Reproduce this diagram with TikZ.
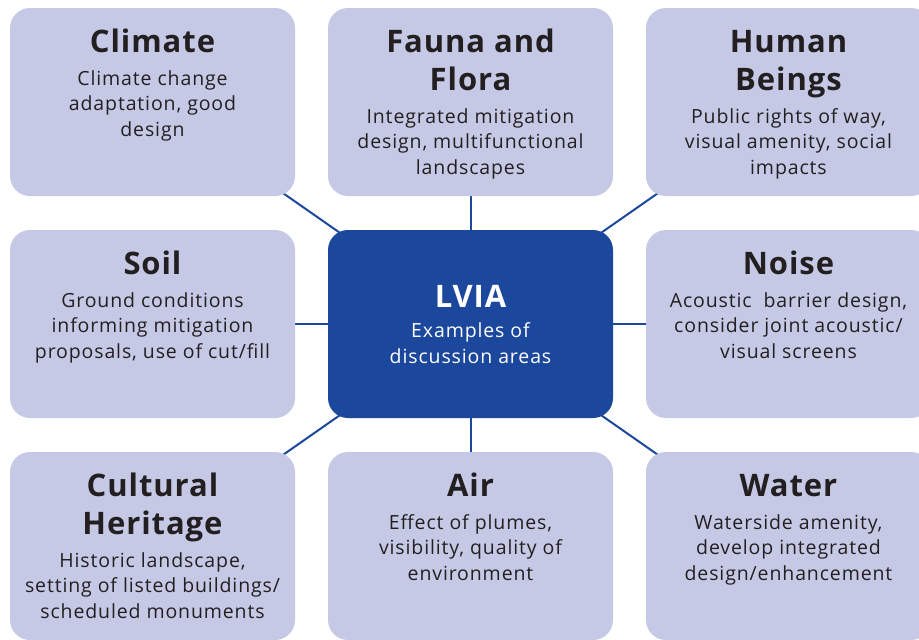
\documentclass[tikz,border=0pt]{standalone}
\usepackage{fontspec}
\setmainfont{Open Sans}
\usetikzlibrary{backgrounds}
\definecolor{lightbox}{RGB}{198,201,230}
\definecolor{hubblue}{RGB}{27,71,157}
\definecolor{textdark}{RGB}{35,31,32}
\newcommand{\titlefont}{\fontsize{31}{38}\selectfont\bfseries\addfontfeature{LetterSpace=3}}
\newcommand{\bodyfont}{\fontsize{19.5}{25.5}\selectfont\mdseries\addfontfeature{LetterSpace=4.5}}
\newcommand{\boxtxt}[2]{\parbox[t]{300pt}{\centering\titlefont #1\par\vspace{7pt}\bodyfont #2\par}}
\begin{document}
\begin{tikzpicture}[x=1pt,y=-1pt,
  topic/.style={fill=lightbox, rounded corners=20pt, inner sep=0, minimum width=285pt, minimum height=188pt},
  hub/.style={fill=hubblue, rounded corners=20pt, inner sep=0, minimum width=285pt, minimum height=188pt},
  link/.style={draw=hubblue, line width=2pt},
  lbl/.style={anchor=base, inner sep=0, text=textdark},
  hublbl/.style={anchor=base, inner sep=0, text=white}]
\useasboundingbox (0,0) rectangle (919,640);
\clip (0,0) rectangle (919,640);
\node[topic] (clim) at (152.5,102) {};
\node[topic] (faun) at (470.5,102) {};
\node[topic] (human) at (788.5,102) {};
\node[topic] (soil) at (152.5,324) {};
\node[hub]   (hubn) at (470.5,324) {};
\node[topic] (noise) at (788.5,324) {};
\node[topic] (cult) at (152.5,546) {};
\node[topic] (air) at (470.5,546) {};
\node[topic] (water) at (788.5,546) {};
\begin{pgfonlayer}{background}
\foreach \t in {clim,faun,human,soil,noise,cult,air,water}
  \draw[link] (hubn.center) -- (\t.center);
\end{pgfonlayer}
\node[lbl] (tclim) at (152.5,52.5) {\boxtxt{Climate}{Climate change\\adaptation, good\\design}};
\node[lbl] (tfaun) at (470.5,52.5) {\boxtxt{Fauna and\\Flora}{Integrated mitigation\\design, multifunctional\\landscapes}};
\node[lbl] (thuman) at (788.5,52.5) {\boxtxt{Human\\Beings}{Public rights of way,\\visual amenity, social\\impacts}};
\node[lbl] (tsoil) at (152.5,274.5) {\boxtxt{Soil}{Ground conditions\\informing mitigation\\proposals, use of cut/fill}};
\node[lbl] (tnoise) at (788.5,274.5) {\boxtxt{Noise}{Acoustic\ \ barrier design,\\consider joint acoustic/\\visual screens}};
\node[lbl] (tcult) at (152.5,496.5) {\boxtxt{Cultural\\Heritage}{Historic landscape,\\setting of listed buildings/\\scheduled monuments}};
\node[lbl] (tair) at (470.5,496.5) {\boxtxt{Air}{Effect of plumes,\\visibility, quality of\\environment}};
\node[lbl] (twater) at (788.5,496.5) {\boxtxt{Water}{Waterside amenity,\\develop integrated\\design/enhancement}};
\node[hublbl] (thub) at (470.5,307) {\parbox[t]{300pt}{\centering\titlefont LVIA\par\vspace{5pt}\bodyfont Examples of\\discussion areas\par}};
\end{tikzpicture}
\end{document}
